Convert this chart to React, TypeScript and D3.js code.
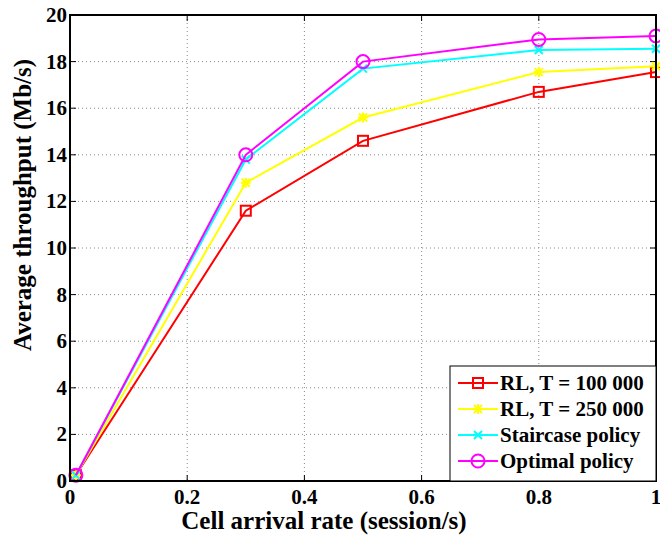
import React from "react";
import * as d3 from "d3";

const xs = [0.01, 0.3, 0.5, 0.8, 1];
const rl100 = [0.25, 11.6, 14.6, 16.7, 17.55];
const rl250 = [0.25, 12.8, 15.6, 17.55, 17.8];
const staircase = [0.25, 13.8, 17.7, 18.5, 18.55];
const optimal = [0.25, 14.0, 18.0, 18.95, 19.1];
const xTicks = [0, 0.2, 0.4, 0.6, 0.8, 1];
const yTicks = [0, 2, 4, 6, 8, 10, 12, 14, 16, 18, 20];
const seriesNames = ["RL, T = 100 000", "RL, T = 250 000", "Staircase policy", "Optimal policy"];
const seriesColors = ["#ff0000", "#ffff00", "#00ffff", "#ff00ff"];
const seriesMarkers = ["square", "star", "x", "circle"];

const L = 70, R = 656, T = 15, B = 481;
const FONT = "Liberation Serif, Times New Roman, DejaVu Serif, serif";
const fs = (size: number) => ({ fontFamily: FONT, fontWeight: 700, fontSize: size });

function Marker({ type, x, y, color }: { type: string; x: number; y: number; color: string }) {
  if (type === "square") return <rect x={x - 5} y={y - 5} width={10} height={10} fill="none" stroke={color} strokeWidth={2} />;
  if (type === "circle") return <circle cx={x} cy={y} r={6.5} fill="none" stroke={color} strokeWidth={2} />;
  if (type === "x") return <path d={`M${x - 4},${y - 4}L${x + 4},${y + 4}M${x - 4},${y + 4}L${x + 4},${y - 4}`} stroke={color} strokeWidth={2} />;
  return (
    <path
      d={`M${x - 5},${y}L${x + 5},${y}M${x},${y - 5}L${x},${y + 5}M${x - 4},${y - 4}L${x + 4},${y + 4}M${x - 4},${y + 4}L${x + 4},${y - 4}`}
      stroke={color}
      strokeWidth={2}
    />
  );
}

export default function App() {
  const x = d3.scaleLinear().domain([0, 1]).range([L, R]);
  const y = d3.scaleLinear().domain([0, 20]).range([B, T]);
  const data = [rl100, rl250, staircase, optimal];
  const line = d3.line<number>().x((_, i) => x(xs[i])).y((d) => y(d));

  const lgX = 450, lgY = 366, lgW = 206, lgH = 115;
  return (
    <svg width={660} height={537} style={{ position: "absolute", left: 0, top: 0, background: "#fff" }}>
      <rect width={660} height={537} fill="#fff" />
      {xTicks.slice(1, -1).map((t) => (
        <line key={"gx" + t} x1={x(t)} x2={x(t)} y1={T} y2={B} stroke="#888" strokeWidth={1} strokeDasharray="1,3" />
      ))}
      {yTicks.slice(1, -1).map((t) => (
        <line key={"gy" + t} x1={L} x2={R} y1={y(t)} y2={y(t)} stroke="#888" strokeWidth={1} strokeDasharray="1,3" />
      ))}
      {xTicks.map((t) => (
        <g key={"tx" + t}>
          <line x1={x(t)} x2={x(t)} y1={B} y2={B - 6} stroke="#000" />
          <line x1={x(t)} x2={x(t)} y1={T} y2={T + 6} stroke="#000" />
          <text x={x(t)} y={B + 23} textAnchor="middle" style={fs(21)}>
            {t}
          </text>
        </g>
      ))}
      {yTicks.map((t) => (
        <g key={"ty" + t}>
          <line x1={L} x2={L + 6} y1={y(t)} y2={y(t)} stroke="#000" />
          <line x1={R} x2={R - 6} y1={y(t)} y2={y(t)} stroke="#000" />
          <text x={L - 3} y={y(t) + 7} textAnchor="end" style={fs(21)}>
            {t}
          </text>
        </g>
      ))}
      {data.map((vals, si) => (
        <g key={"s" + si}>
          <path d={line(vals) || ""} fill="none" stroke={seriesColors[si]} strokeWidth={2} />
          {vals.map((v, i) => (
            <Marker key={i} type={seriesMarkers[si]} x={x(xs[i])} y={y(v)} color={seriesColors[si]} />
          ))}
        </g>
      ))}
      <rect x={L} y={T} width={R - L} height={B - T} fill="none" stroke="#000" strokeWidth={2} />
      <rect x={lgX} y={lgY} width={lgW} height={lgH} fill="#fff" stroke="#000" strokeWidth={1} />
      {seriesNames.map((n, i) => {
        const cy = lgY + 17 + i * 26;
        return (
          <g key={"lg" + i}>
            <line x1={lgX + 8} x2={lgX + 48} y1={cy} y2={cy} stroke={seriesColors[i]} strokeWidth={2} />
            <Marker type={seriesMarkers[i]} x={lgX + 28} y={cy} color={seriesColors[i]} />
            <text x={lgX + 50} y={cy + 7} style={fs(21)}>
              {n}
            </text>
          </g>
        );
      })}
      <text x={324} y={529} textAnchor="middle" style={fs(25)}>
        Cell arrival rate (session/s)
      </text>
      <text transform={`translate(31,205) rotate(-90)`} textAnchor="middle" style={fs(25)}>
        Average throughput (Mb/s)
      </text>
    </svg>
  );
}
